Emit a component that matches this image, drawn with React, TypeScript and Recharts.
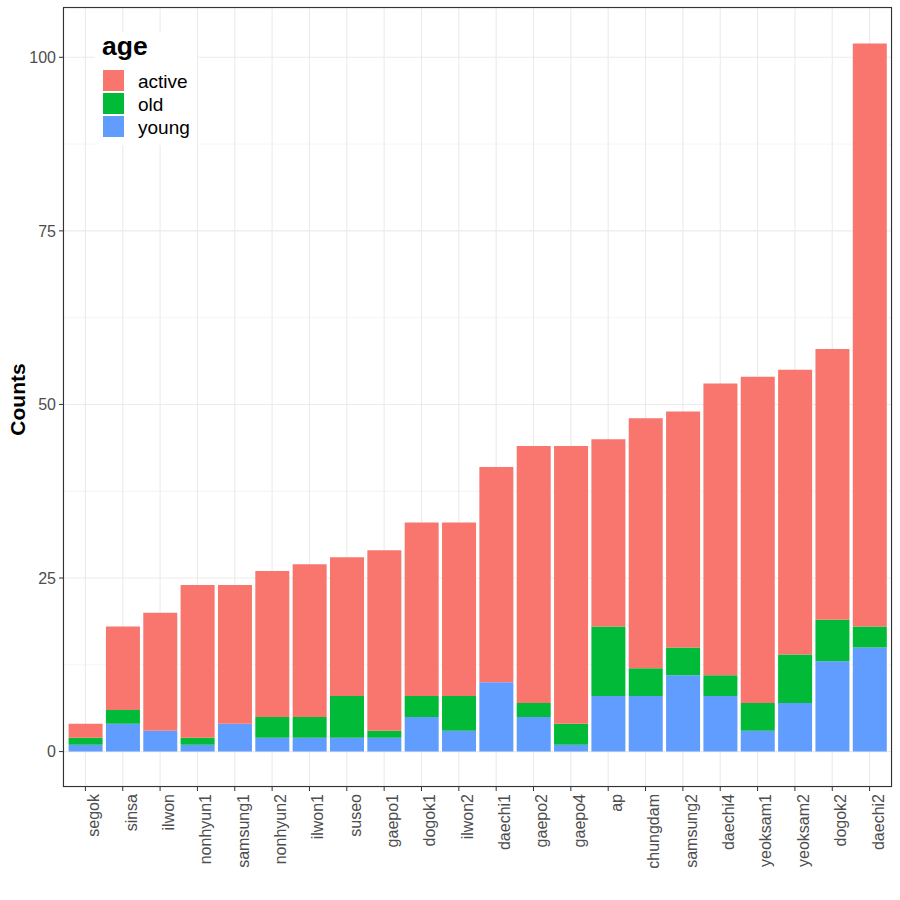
import React from 'react';
import { BarChart, Bar, XAxis, YAxis, CartesianGrid } from 'recharts';

const categories = ['segok', 'sinsa', 'ilwon', 'nonhyun1', 'samsung1', 'nonhyun2', 'ilwon1', 'suseo', 'gaepo1', 'dogok1', 'ilwon2', 'daechi1', 'gaepo2', 'gaepo4', 'ap', 'chungdam', 'samsung2', 'daechi4', 'yeoksam1', 'yeoksam2', 'dogok2', 'daechi2'];
const young = [1, 4, 3, 1, 4, 2, 2, 2, 2, 5, 3, 10, 5, 1, 8, 8, 11, 8, 3, 7, 13, 15];
const old = [1, 2, 0, 1, 0, 3, 3, 6, 1, 3, 5, 0, 2, 3, 10, 4, 4, 3, 4, 7, 6, 3];
const active = [2, 12, 17, 22, 20, 21, 22, 20, 26, 25, 25, 31, 37, 40, 27, 36, 34, 42, 47, 41, 39, 84];
const yTicks = [0, 25, 50, 75, 100];
const yMinor = [12.5, 37.5, 62.5, 87.5];
const legendItems = [
  { key: 'active', label: 'active', color: '#F8766D' },
  { key: 'old', label: 'old', color: '#00BA38' },
  { key: 'young', label: 'young', color: '#619CFF' },
];

const data = categories.map((name, i) => ({ name, young: young[i], old: old[i], active: active[i] }));

const FONT = '"Liberation Sans", Arial, sans-serif';

const XTick = (props: any) => {
  const { x, y, payload } = props;
  return (
    <text
      x={x}
      y={y}
      dy="0.87em"
      transform={`rotate(-90 ${x} ${y})`}
      textAnchor="end"
      fill="#4D4D4D"
      fontSize={16}
      fontFamily={FONT}
    >
      {payload.value}
    </text>
  );
};

export default function App() {
  const W = 900;
  const H = 900;
  const left = 63;
  const right = 892;
  const top = 8;
  const bottom = 787;
  const yAxisW = 55;
  const xAxisH = 100;
  const unit = (right - left) / (categories.length + 0.2);
  const pad = unit * 0.1;
  return (
    <div style={{ position: 'absolute', left: 0, top: 0, width: W, height: H, background: '#fff' }}>
      <BarChart
        width={W}
        height={H}
        data={data}
        margin={{ top, right: W - right, bottom: H - bottom - xAxisH, left: left - yAxisW }}
        barCategoryGap="5%"
      >
        <CartesianGrid stroke="#EBEBEB" strokeWidth={0.55} vertical={false} horizontalValues={yMinor} />
        <CartesianGrid stroke="#EBEBEB" strokeWidth={1.1} />
        <XAxis
          dataKey="name"
          interval={0}
          height={xAxisH}
          padding={{ left: pad, right: pad }}
          axisLine={false}
          tickLine={{ stroke: '#333333' }}
          tickSize={4}
          tickMargin={3}
          tick={<XTick />}
        />
        <YAxis
          type="number"
          width={yAxisW}
          domain={[-5.1, 107.1]}
          allowDataOverflow
          ticks={yTicks}
          axisLine={false}
          tickLine={{ stroke: '#333333' }}
          tickSize={4}
          tickMargin={3}
          tick={{ fill: '#4D4D4D', fontSize: 16, fontFamily: FONT }}
        />
        <Bar dataKey="young" stackId="a" fill="#619CFF" isAnimationActive={false} />
        <Bar dataKey="old" stackId="a" fill="#00BA38" isAnimationActive={false} />
        <Bar dataKey="active" stackId="a" fill="#F8766D" isAnimationActive={false} />
      </BarChart>
      <svg
        width={W}
        height={H}
        style={{ position: 'absolute', left: 0, top: 0, pointerEvents: 'none' }}
      >
        <rect x={left + 0.5} y={top - 0.5} width={right - left - 1} height={bottom - top} fill="none" stroke="#333333" strokeWidth={1.1} />
        <text
          x={17}
          y={(top + bottom) / 2 + 2}
          transform={`rotate(-90 17 ${(top + bottom) / 2 + 2})`}
          textAnchor="middle"
          dominantBaseline="central"
          fontSize={21}
          fontWeight="bold"
          fontFamily={FONT}
          fill="#000"
        >
          Counts
        </text>
        <rect x={95} y={32} width={102} height={113} fill="#fff" />
        <text x={102} y={54.5} fontSize={26.5} fontWeight="bold" fontFamily={FONT} fill="#000">age</text>
        {legendItems.map((it, i) => (
          <g key={it.key}>
            <rect x={103} y={70 + i * 23} width={21} height={21} fill={it.color} />
            <text x={138} y={88.3 + i * 22.6} fontSize={19} fontFamily={FONT} fill="#000">{it.label}</text>
          </g>
        ))}
      </svg>
    </div>
  );
}
